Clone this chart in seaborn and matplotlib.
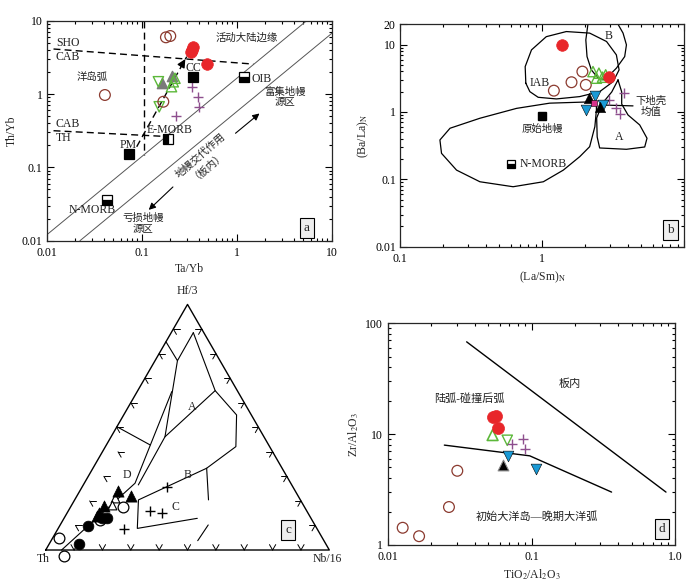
import numpy as np
import matplotlib
matplotlib.use("Agg")
import matplotlib.pyplot as plt
from matplotlib.ticker import LogLocator, NullFormatter
import seaborn as sns

sns.set_style("ticks")
plt.rcParams["font.family"] = ["Liberation Serif", "Noto Sans CJK SC"]
plt.rcParams["mathtext.fontset"] = "stix"
plt.rcParams["axes.unicode_minus"] = False

RED = "#e8262a"
BROWN = "#8b3a2f"
GREY = "#7a7a7a"
GREEN = "#5cb83a"
PURPLE = "#8e4f8e"
BLUE = "#1a9ad6"
MAGENTA = "#d6318a"
TXT = "#222222"

# ---------------- panel a: Th/Yb vs Ta/Yb ----------------
a_red_x = [0.349, 0.328, 0.340, 0.483]
a_red_y = [4.34, 3.71, 4.00, 2.54]
a_circ_x = [0.180, 0.200, 0.041, 0.169]
a_circ_y = [5.93, 6.18, 0.97, 0.785]
a_grey_x = [0.163, 0.210]
a_grey_y = [1.40, 1.78]
a_gup_x = [0.215, 0.206, 0.224]
a_gup_y = [1.47, 1.26, 1.64]
a_gdn_x = [0.150, 0.153]
a_gdn_y = [1.47, 0.67]
a_plus_x = [0.336, 0.395, 0.400, 0.228]
a_plus_y = [1.26, 0.92, 0.67, 0.506]
a_ref_name = ["PM", "E-MORB", "CC", "OIB", "N-MORB"]
a_ref_x = [0.074, 0.190, 0.349, 1.19, 0.0435]
a_ref_y = [0.152, 0.241, 1.69, 1.69, 0.0358]
a_ref_fill = ["full", "left", "full", "bottom", "bottom"]

a_sho_x, a_sho_y = [0.0118, 1.50], [4.11, 2.56]
a_th_x, a_th_y = [0.0118, 0.199], [0.316, 0.262]
a_vert_x, a_vert_y = [0.107, 0.107], [10.0, 0.147]
a_diag1_x, a_diag1_y = [0.01, 5.46], [0.012, 10.0]
a_diag2_x, a_diag2_y = [0.0224, 10.0], [0.01, 6.7]
a_trend = [(0.0886, 0.191), (0.298, 3.23)]
a_meta_lo = [(0.224, 0.0574), (0.113, 0.0248)]
a_meta_hi = [(0.923, 0.276), (1.83, 0.574)]

# ---------------- panel b: (Ba/La)N vs (La/Sm)N ----------------
b_red_x, b_red_y = [1.39, 2.96], [9.9, 3.28]
b_circ_x = [1.92, 1.61, 2.03, 1.21]
b_circ_y = [3.97, 2.76, 2.52, 2.07]
b_gup_x = [2.28, 2.51, 2.66, 2.41, 2.80]
b_gup_y = [3.97, 3.76, 3.28, 3.17, 3.55]
b_blue_x = [2.35, 2.03, 2.66]
b_blue_y = [1.73, 1.07, 1.27]
b_black_x = [2.14, 2.54]
b_black_y = [1.63, 1.17]
b_mag_x, b_mag_y = [2.31], [1.35]
b_plus_x = [3.75, 2.96, 3.30, 3.52]
b_plus_y = [1.94, 1.51, 1.13, 0.934]

b_iab_x = [0.768, 0.76, 0.842, 1.07, 1.48, 2.16, 2.84, 3.33, 3.48, 3.16, 2.54,
           1.84, 1.26, 0.938, 0.82, 0.768]
b_iab_y = [2.67, 4.71, 8.34, 13.1, 15.6, 14.8, 11.1, 7.03, 4.21, 2.82, 2.0,
           1.69, 1.56, 1.65, 2.0, 2.67]
b_B_x = [2.10, 2.03, 2.07, 2.22, 2.48, 2.84, 2.99, 3.33, 3.81, 3.92, 3.71, 3.42]
b_B_y = [20.0, 11.7, 6.63, 4.21, 3.17, 2.99, 3.55, 4.46, 6.63, 9.9, 14.8, 20.0]
b_A_x = [3.42, 3.09, 2.67, 2.42, 2.44, 2.54, 3.92, 5.27, 5.47, 4.86, 4.02, 3.63,
         3.63, 3.42]
b_A_y = [2.99, 1.98, 1.36, 0.814, 0.425, 0.292, 0.279, 0.302, 0.407, 0.641,
         0.902, 1.31, 1.98, 2.99]
b_big_x = [2.41, 1.13, 0.661, 0.365, 0.225, 0.191, 0.196, 0.25, 0.365, 0.625,
           1.02, 1.41, 1.84, 2.16, 2.35, 2.41, 2.41]
b_big_y = [1.42, 1.35, 1.13, 0.806, 0.573, 0.384, 0.243, 0.137, 0.092, 0.0776,
           0.092, 0.137, 0.217, 0.305, 0.605, 1.07, 1.42]
b_lc_x, b_lc_y = [2.54, 4.36], [1.27, 1.23]

# ---------------- panel c: Hf/3 - Th - Nb/16 ternary ----------------
c_tri_hf = [0.240, 0.220, 0.180, 0.152, 0.138]
c_tri_nb = [0.136, 0.190, 0.117, 0.112, 0.111]
c_dot_hf = [0.132, 0.130, 0.099, 0.023]
c_dot_nb = [0.149, 0.132, 0.098, 0.105]
c_circ_hf = [0.176, 0.122, 0.048, -0.023]
c_circ_nb = [0.186, 0.130, 0.023, 0.076]
c_otri_hf = [0.211, 0.183]
c_otri_nb = [0.139, 0.142]
c_plus_hf = [0.258, 0.160, 0.152, 0.087]
c_plus_nb = [0.298, 0.287, 0.335, 0.234]
# field boundaries as (Hf, Nb) fractions
c_lines = [
    [(0.848, 0.0), (0.771, 0.079), (0.885, 0.078)],
    [(0.885, 0.078), (0.649, 0.273), (0.550, 0.398), (0.421, 0.460),
     (0.333, 0.401), (0.204, 0.225), (0.088, 0.279), (0.129, 0.470)],
    [(0.333, 0.401), (0.204, 0.472)],
    [(0.038, 0.517), (0.102, 0.522)],
    [(0.771, 0.079), (0.461, 0.190), (0.265, 0.194)],
    [(0.461, 0.190), (0.649, 0.273)],
    [(0.645, 0.122), (0.272, 0.179), (0.0, 0.056)],
    [(0.502, 0.0), (0.428, 0.154)],
]


def tern(hf, nb):
    hf = np.asarray(hf, dtype=float)
    nb = np.asarray(nb, dtype=float)
    return nb + 0.5 * hf, hf * np.sqrt(3) / 2


# ---------------- panel d: Zr/Al2O3 vs TiO2/Al2O3 ----------------
d_red_x, d_red_y = [0.054, 0.056, 0.058], [14.3, 14.6, 11.4]
d_gup_x, d_gup_y = [0.0534], [9.8]
d_gdn_x, d_gdn_y = [0.0676], [8.8]
d_plus_x = [0.0733, 0.0866, 0.0899]
d_plus_y = [8.2, 9.1, 7.3]
d_blue_x, d_blue_y = [0.0688, 0.1066], [6.37, 4.83]
d_black_x, d_black_y = [0.0634], [5.26]
d_circ_x = [0.0303, 0.0265, 0.0126, 0.0164]
d_circ_y = [4.67, 2.2, 1.43, 1.2]
d_line1_x, d_line1_y = [0.0352, 0.865], [68.0, 3.0]
d_line2_x, d_line2_y = [0.0246, 0.097, 0.361], [7.96, 6.37, 3.0]


def pts(ax, x, y, marker, s, fc, ec, lw=1.0, z=4):
    sns.scatterplot(x=x, y=y, ax=ax, marker=marker, s=s, facecolor=fc,
                    edgecolor=ec, linewidth=lw, zorder=z, legend=False)


def plus(ax, x, y, s=45, z=4):
    sns.scatterplot(x=x, y=y, ax=ax, marker="+", s=s, color=PURPLE,
                    linewidth=1.0, zorder=z, legend=False)


def style_log(ax, xt, xl, yt, yl):
    ax.set_xscale("log")
    ax.set_yscale("log")
    for axis in (ax.xaxis, ax.yaxis):
        axis.set_minor_locator(LogLocator(base=10, subs=np.arange(2, 10)))
        axis.set_minor_formatter(NullFormatter())
    ax.set_xticks(xt, xl)
    ax.set_yticks(yt, yl)
    ax.tick_params(which="both", direction="in", top=True, right=True,
                   labelsize=8.5, width=0.8, colors="k", pad=3)
    ax.tick_params(axis="x", which="major", pad=4.5)
    ax.tick_params(which="major", length=5)
    ax.tick_params(which="minor", length=2.5)
    for sp in ax.spines.values():
        sp.set_linewidth(0.9)


def tag(ax, x, y, letter, transform=None):
    ax.text(x, y, letter, fontsize=9.5, ha="center", va="center",
            transform=transform if transform is not None else ax.transAxes,
            bbox=dict(boxstyle="square,pad=0.3", fc="#eeeeee", ec="k", lw=0.8),
            zorder=10)


fig = plt.figure(figsize=(7, 5.81), dpi=100)

# ======================= panel a =======================
ax = fig.add_axes([0.0667, 0.5857, 0.4071, 0.3787])
dash = (0, (5, 3))
ax.plot(a_sho_x, a_sho_y, color="k", lw=1, ls=dash)
ax.plot(a_th_x, a_th_y, color="k", lw=1, ls=dash)
ax.plot(a_vert_x, a_vert_y, color="k", lw=1, ls=dash)
ax.plot(a_diag1_x, a_diag1_y, color="#555555", lw=0.7)
ax.plot(a_diag2_x, a_diag2_y, color="#555555", lw=0.7)
ax.plot([a_trend[0][0], a_trend[1][0]], [a_trend[0][1], a_trend[1][1]],
        color="k", lw=1, ls=dash)
ax.annotate("", xy=a_trend[1], xytext=(0.25, 2.2),
            arrowprops=dict(arrowstyle="-|>", color="k", lw=1, mutation_scale=12))
for seg in (a_meta_lo, a_meta_hi):
    ax.annotate("", xy=seg[1], xytext=seg[0],
                arrowprops=dict(arrowstyle="-|>", color="k", lw=0.8,
                                mutation_scale=10))

pts(ax, a_grey_x, a_grey_y, "^", 55, GREY, GREY, z=3)
pts(ax, a_gup_x, a_gup_y, "^", 55, "none", GREEN, 1.0)
pts(ax, a_gdn_x, a_gdn_y, "v", 55, "none", GREEN, 1.0)
pts(ax, a_circ_x, a_circ_y, "o", 60, "none", BROWN, 0.9)
plus(ax, a_plus_x, a_plus_y)
pts(ax, a_red_x, a_red_y, "o", 70, RED, RED, 0.5, z=5)
for name, x, y, fs in zip(a_ref_name, a_ref_x, a_ref_y, a_ref_fill):
    ax.plot(x, y, marker="s", ms=6.5, mfc="k", mec="k", mfcalt="w",
            fillstyle=fs, ls="none", mew=0.9, zorder=5)

tk = dict(color=TXT, fontsize=8.5)
ax.text(0.0125, 5.0, "SHO", ha="left", va="center", **tk)
ax.text(0.0125, 3.2, "CAB", ha="left", va="center", **tk)
ax.text(0.0125, 0.39, "CAB", ha="left", va="center", **tk)
ax.text(0.0125, 0.25, "TH", ha="left", va="center", **tk)
ax.text(0.0298, 1.72, "洋岛弧", ha="center", va="center", color=TXT, fontsize=7.5)
ax.text(1.27, 5.93, "活动大陆边缘", ha="center", va="center", color=TXT, fontsize=7.5)
ax.text(0.349, 2.24, "CC", ha="center", va="center", **tk)
ax.text(1.44, 1.6, "OIB", ha="left", va="center", **tk)
ax.text(0.199, 0.323, "E-MORB", ha="center", va="center", **tk)
ax.text(0.0724, 0.2, "PM", ha="center", va="center", **tk)
ax.text(0.0298, 0.026, "N-MORB", ha="center", va="center", **tk)
ax.text(3.22, 0.92, "富集地幔\n源区", ha="center", va="center", color=TXT,
        fontsize=7.5, linespacing=1.1)
ax.text(0.104, 0.0172, "亏损地幔\n源区", ha="center", va="center", color=TXT,
        fontsize=7.5, linespacing=1.1)
ax.text(0.45, 0.13, "地幔交代作用\n（板内）", ha="center", va="center",
        rotation=41, rotation_mode="anchor", color=TXT, fontsize=7.5,
        linespacing=1.0)

style_log(ax, [0.01, 0.1, 1, 10], ["0.01", "0.1", "1", "10"],
          [0.01, 0.1, 1, 10], ["0.01", "0.1", "1", "10"])
ax.set_xlim(0.01, 10)
ax.set_ylim(0.01, 10)
ax.set_xlabel("Ta/Yb", fontsize=8.5, labelpad=3)
ax.set_ylabel("Th/Yb", fontsize=8.5, labelpad=3)
tag(ax, 0.912, 0.059, "a")

# ======================= panel b =======================
ax = fig.add_axes([0.5714, 0.5754, 0.4061, 0.3828])
for fx, fy in ((b_iab_x, b_iab_y), (b_B_x, b_B_y), (b_A_x, b_A_y),
               (b_big_x, b_big_y), (b_lc_x, b_lc_y)):
    ax.plot(fx, fy, color="k", lw=0.9)

pts(ax, b_circ_x, b_circ_y, "o", 60, "none", BROWN, 0.9)
pts(ax, b_gup_x, b_gup_y, "^", 55, "none", GREEN, 1.0)
pts(ax, b_red_x, b_red_y, "o", 70, RED, RED, 0.5, z=5)
plus(ax, b_plus_x, b_plus_y)
pts(ax, b_blue_x, b_blue_y, "v", 60, BLUE, "k", 0.4)
pts(ax, b_black_x, b_black_y, "^", 55, "k", "k", 0.4)
pts(ax, b_mag_x, b_mag_y, "s", 22, MAGENTA, "k", 0.4, z=6)
ax.plot(1.0, 0.88, marker="s", ms=6, mfc="k", mec="k", ls="none", zorder=5)
ax.plot(0.60, 0.167, marker="s", ms=6, mfc="k", mec="k", mfcalt="w",
        fillstyle="bottom", ls="none", mew=0.9, zorder=5)

ax.text(2.96, 13.6, "B", ha="center", va="center", **tk)
ax.text(0.96, 2.67, "IAB", ha="center", va="center", **tk)
ax.text(3.51, 0.42, "A", ha="center", va="center", **tk)
ax.text(1.0, 0.56, "原始地幔", ha="center", va="center", color=TXT, fontsize=7.5)
ax.text(0.69, 0.167, "N-MORB", ha="left", va="center", **tk)
ax.text(5.87, 1.2, "下地壳\n均值", ha="center", va="center", color=TXT,
        fontsize=7.5, linespacing=1.1)

style_log(ax, [0.1, 1, 10], ["0.1", "1", ""],
          [0.01, 0.1, 1, 10, 20], ["0.01", "0.1", "1", "10", "20"])
ax.set_xlim(0.1, 10)
ax.set_ylim(0.01, 20)
ax.set_xlabel(r"(La/Sm)$_\mathrm{N}$", fontsize=8.5, labelpad=3)
ax.set_ylabel(r"(Ba/La)$_\mathrm{N}$", fontsize=8.5, labelpad=3)
tag(ax, 0.952, 0.075, "b")

# ======================= panel c =======================
ax = fig.add_axes([0.0286, 0.0103, 0.4643, 0.4905])
h3 = np.sqrt(3) / 2
ax.plot([0, 1, 0.5, 0], [0, 0, h3, 0], color="k", lw=1.0)
for line in c_lines:
    hf, nb = zip(*line)
    lx, ly = tern(hf, nb)
    ax.plot(lx, ly, color="k", lw=0.8)

# chevron ticks at 10 % steps
arm = 0.022
ticks = []
for k in range(1, 10):
    f = k / 10
    ticks.append(((0.0, f), (0.5, h3), (-0.5, h3)))          # bottom edge
    ticks.append(((f, 1 - f), (-1.0, 0.0), (-0.5, -h3)))     # right edge
    off = 0.055 if f < 0.45 else 0.0
    ticks.append(((f, off), (1.0, 0.0), (0.5, -h3)))         # left edge
for (hf, nb), d1, d2 in ticks:
    px, py = tern(hf, nb)
    for d in (d1, d2):
        ax.plot([px, px + arm * d[0]], [py, py + arm * d[1]], color="k", lw=0.7)

pts(ax, *tern(c_plus_hf, c_plus_nb), "+", 45, "k", "k", 1.0)
pts(ax, *tern(c_circ_hf, c_circ_nb), "o", 60, "white", "k", 0.9)
pts(ax, *tern(c_otri_hf, c_otri_nb), "^", 40, "white", "k", 0.8)
pts(ax, *tern(c_dot_hf, c_dot_nb), "o", 60, "k", "k", 0.5)
pts(ax, *tern(c_tri_hf, c_tri_nb), "^", 65, "k", "k", 0.5)

ax.text(0.5, 0.892, "Hf/3", ha="center", va="bottom", **tk)
ax.text(-0.008, -0.033, "Th", ha="center", va="center", **tk)
ax.text(0.993, -0.033, "Nb/16", ha="center", va="center", **tk)
ax.text(0.515, 0.503, "A", ha="center", va="center", **tk)
ax.text(0.499, 0.264, "B", ha="center", va="center", **tk)
ax.text(0.456, 0.152, "C", ha="center", va="center", **tk)
ax.text(0.286, 0.264, "D", ha="center", va="center", **tk)
tag(ax, 0.855, 0.0705, "c", transform=ax.transData)
ax.set_xlim(-0.0906, 1.0554)
ax.set_ylim(-0.0882, 0.9168)
ax.axis("off")

# ======================= panel d =======================
ax = fig.add_axes([0.5547, 0.0620, 0.4096, 0.3816])
ax.plot(d_line1_x, d_line1_y, color="k", lw=1.0)
ax.plot(d_line2_x, d_line2_y, color="k", lw=1.0)
pts(ax, d_circ_x, d_circ_y, "o", 60, "none", BROWN, 0.9)
pts(ax, d_red_x, d_red_y, "o", 75, RED, RED, 0.5, z=5)
pts(ax, d_gup_x, d_gup_y, "^", 60, "none", GREEN, 1.2)
pts(ax, d_gdn_x, d_gdn_y, "v", 55, "none", GREEN, 1.0)
plus(ax, d_plus_x, d_plus_y)
pts(ax, d_black_x, d_black_y, "^", 60, "k", "#888888", 0.8)
pts(ax, d_blue_x, d_blue_y, "v", 60, BLUE, "k", 0.4)

ax.text(0.185, 28.6, "板内", ha="center", va="center", color=TXT, fontsize=8)
ax.text(0.037, 21.0, "陆弧-碰撞后弧", ha="center", va="center", color=TXT,
        fontsize=8)
ax.text(0.108, 1.82, "初始大洋岛—晚期大洋弧", ha="center", va="center",
        color=TXT, fontsize=8)

style_log(ax, [0.01, 0.1, 1], ["0.01", "0.1", "1.0"],
          [1, 10, 100], ["1", "10", "100"])
ax.tick_params(axis="y", which="major", pad=4)
ax.set_xlim(0.01, 1)
ax.set_ylim(1, 100)
ax.set_xlabel(r"TiO$_2$/Al$_2$O$_3$", fontsize=8.5, labelpad=3)
ax.set_ylabel(r"Zr/Al$_2$O$_3$", fontsize=8.5, labelpad=3)
tag(ax, 0.954, 0.071, "d")

fig.savefig("out.png", dpi=100)
plt.close(fig)
